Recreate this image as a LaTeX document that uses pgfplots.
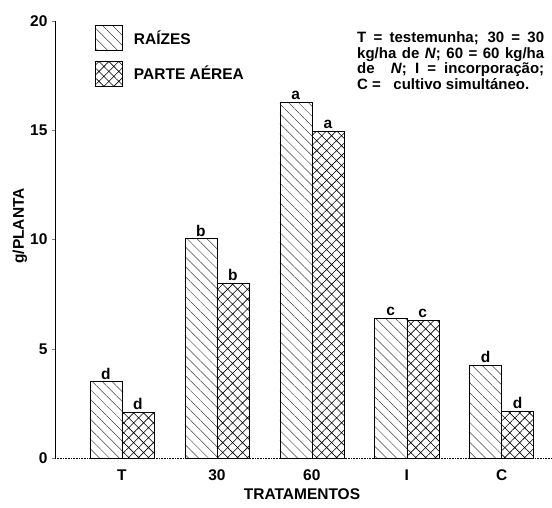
\documentclass[border=0pt]{standalone}
\usepackage{fontspec}
\setmainfont{Liberation Sans}
\usepackage{pgfplots}
\pgfplotsset{compat=1.18}
\usetikzlibrary{patterns.meta}
\pgfplotsset{boxlegend/.style={legend image code/.code={\draw[##1] (0pt,-12.5pt) rectangle (27pt,12.5pt);}}}
\newcommand{\bigf}{\bfseries\fontsize{15.5}{17}\selectfont}
\begin{document}
\begin{tikzpicture}[x=1pt,y=1pt]
\path[use as bounding box] (-55,-49) rectangle (497,458);
\begin{axis}[
  at={(0pt,0pt)}, anchor=south west,
  scale only axis, width=497pt, height=437pt,
  xmin=-0.705, xmax=4.53, ymin=0, ymax=20,
  axis x line*=bottom, axis y line*=left,
  x axis line style={densely dotted, line width=0.6pt},
  y axis line style={line width=0.6pt},
  ytick={0,5,10,15,20},
  xtick={0,1,2,3,4}, xticklabels={T,30,60,I,C},
  xtick style={draw=none},
  ytick style={line width=0.5pt},
  major tick length=3pt, tick align=outside,
  /pgf/number format/assume math mode=true,
  ticklabel style={font=\bigf},
  yticklabel style={xshift=-1pt},
  xticklabel style={yshift=-5pt},
  xlabel={TRATAMENTOS},
  xlabel style={at={(axis description cs:0.497,-0.082)}, anchor=center, font=\bigf},
  ylabel={g/PLANTA},
  ylabel style={at={(axis description cs:-0.0704,0.531)}, anchor=center, rotate=0, font=\bigf},
  ybar=0pt, bar width=32pt,
  nodes near coords, point meta=explicit symbolic,
  every node near coord/.append style={font=\bigf, inner sep=2pt},
  legend style={at={(axis description cs:0.075,0.995)}, anchor=north west, draw=none, fill=none,
    font=\bigf, row sep=10pt},
  legend cell align=left,
  clip=false,
]
\addplot[draw=black, line width=0.5pt, pattern={Lines[angle=-45,distance=7pt,line width=0.5pt]}, pattern color=black!75, boxlegend]
  coordinates {(0,3.5) [d] (1,10.05) [b] (2,16.3) [a] (3,6.4) [c] (4,4.25) [d]};
\addlegendentry{\hspace{9pt}RAÍZES}
\addplot[draw=black, line width=0.5pt, pattern={Hatch[angle=45,distance=7pt,line width=0.6pt]}, pattern color=black, boxlegend]
  coordinates {(0,2.1) [d] (1,8.0) [b] (2,14.95) [a] (3,6.3) [c] (4,2.15) [d]};
\addlegendentry{\hspace{9pt}PARTE AÉREA}
\end{axis}
\begin{scope}[every node/.style={anchor=base west, inner sep=0pt, font=\bfseries\fontsize{15}{16}\selectfont}]
\node at (302,415) {\makebox[187pt][s]{T = testemunha; 30 = 30}};
\node at (302,399) {\makebox[187pt][s]{kg/ha de \textit{N}; 60 = 60 kg/ha}};
\node at (302,384) {\makebox[187pt][s]{de \ \textit{N}; I = incorporação;}};
\node at (302,368) {C = \ \ cultivo simultáneo.};
\end{scope}
\end{tikzpicture}
\end{document}
